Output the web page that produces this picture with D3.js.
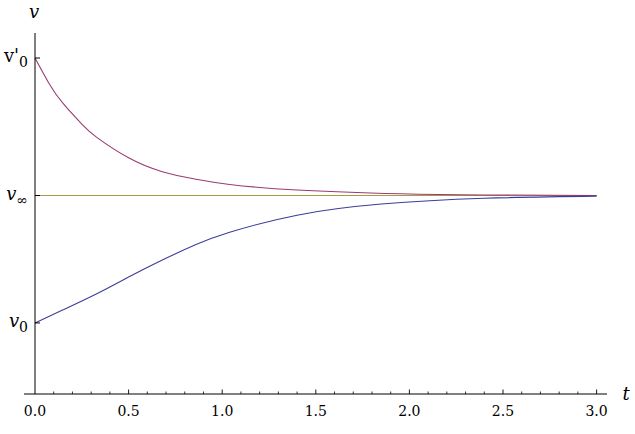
<!DOCTYPE html>
<html><head><meta charset="utf-8">
<script src="https://cdn.jsdelivr.net/npm/d3@7"></script>
<style>body{margin:0;background:#fff}svg{display:block}</style>
</head><body>
<svg id="c" width="635" height="434"></svg>
<script>
// values (v in units of terminal velocity, axis origin at v = 0)
const tUpper = [0, 0.075, 0.15, 0.25, 0.33, 0.5, 0.68, 0.86, 1.04, 1.4, 1.95, 2.4, 3.0];
const vUpper = [1.693, 1.565, 1.464, 1.36, 1.293, 1.19, 1.12, 1.082, 1.056, 1.028, 1.009, 1.003, 1.0];
const tLower = [0, 0.15, 0.33, 0.5, 0.68, 0.86, 1.04, 1.4, 1.85, 2.4, 3.0];
const vLower = [0.358, 0.424, 0.505, 0.589, 0.675, 0.753, 0.815, 0.901, 0.957, 0.986, 0.997];
const tFlat = [0, 3.0];
const vFlat = [1.0, 1.0];
const xMajor = [0, 0.5, 1.0, 1.5, 2.0, 2.5, 3.0];
const xMajorLabels = ["0.0", "0.5", "1.0", "1.5", "2.0", "2.5", "3.0"];
const yTickValues = [0.358, 1.0, 1.693];
const yTickLabels = [["v", "0", "italic"], ["v", "∞", "italic"], ["v'", "0", "normal"]];

const FONT = "'DejaVu Serif', 'Liberation Serif', serif";
const svg = d3.select("#c");
const x = d3.scaleLinear().domain([0, 3]).range([35, 596.6]);
const y = d3.scaleLinear().domain([0, 1.819]).range([394, 33]);

const line = d3.line().x(d => x(d[0])).y(d => y(d[1])).curve(d3.curveNatural);
const series = [
  {t: tFlat, v: vFlat, c: "#a89a45"},
  {t: tUpper, v: vUpper, c: "#993d71"},
  {t: tLower, v: vLower, c: "#3d3d99"}
];
series.forEach(s => {
  svg.append("path").datum(s.t.map((t, i) => [t, s.v[i]]))
    .attr("d", line).attr("fill", "none").attr("stroke", s.c).attr("stroke-width", 1.1);
});

// x axis
svg.append("line").attr("x1", 24).attr("x2", 607).attr("y1", y(0)).attr("y2", y(0))
  .attr("stroke", "#000").attr("stroke-width", 1);
const minor = d3.range(1, 31).map(i => i / 10).filter(v => Math.abs(v * 2 - Math.round(v * 2)) > 1e-6);
svg.selectAll(".mn").data(minor).enter().append("line")
  .attr("x1", d => x(d)).attr("x2", d => x(d)).attr("y1", y(0)).attr("y2", y(0) - 2.5)
  .attr("stroke", "#000").attr("stroke-width", 0.8);
svg.selectAll(".mj").data(xMajor.slice(1)).enter().append("line")
  .attr("x1", d => x(d)).attr("x2", d => x(d)).attr("y1", y(0)).attr("y2", y(0) - 4.5)
  .attr("stroke", "#000").attr("stroke-width", 0.9);
svg.selectAll(".xl").data(xMajor).enter().append("text")
  .attr("x", d => x(d)).attr("y", 416).attr("text-anchor", "middle")
  .attr("font-family", FONT).attr("font-size", 14)
  .text((d, i) => xMajorLabels[i]);

// y axis
svg.append("line").attr("x1", x(0)).attr("x2", x(0)).attr("y1", y(0)).attr("y2", 33)
  .attr("stroke", "#000").attr("stroke-width", 1);
yTickValues.forEach((v, i) => {
  svg.append("line").attr("x1", x(0)).attr("x2", x(0) + 5).attr("y1", y(v)).attr("y2", y(v))
    .attr("stroke", "#000").attr("stroke-width", 1);
  const lab = yTickLabels[i];
  const tx = svg.append("text").attr("x", 28).attr("y", y(v) + 4).attr("text-anchor", "end")
    .attr("font-family", FONT).attr("font-size", 18);
  tx.append("tspan").attr("font-style", lab[2]).text(lab[0]);
  tx.append("tspan").attr("font-size", 14).attr("dy", 5).text(lab[1]);
});

// axis labels
svg.append("text").attr("x", 34).attr("y", 18).attr("text-anchor", "middle")
  .attr("font-family", FONT).attr("font-style", "italic").attr("font-size", 18).text("v");
svg.append("text").attr("x", 626).attr("y", 400).attr("text-anchor", "middle")
  .attr("font-family", FONT).attr("font-style", "italic").attr("font-size", 18).text("t");
</script>
</body></html>
